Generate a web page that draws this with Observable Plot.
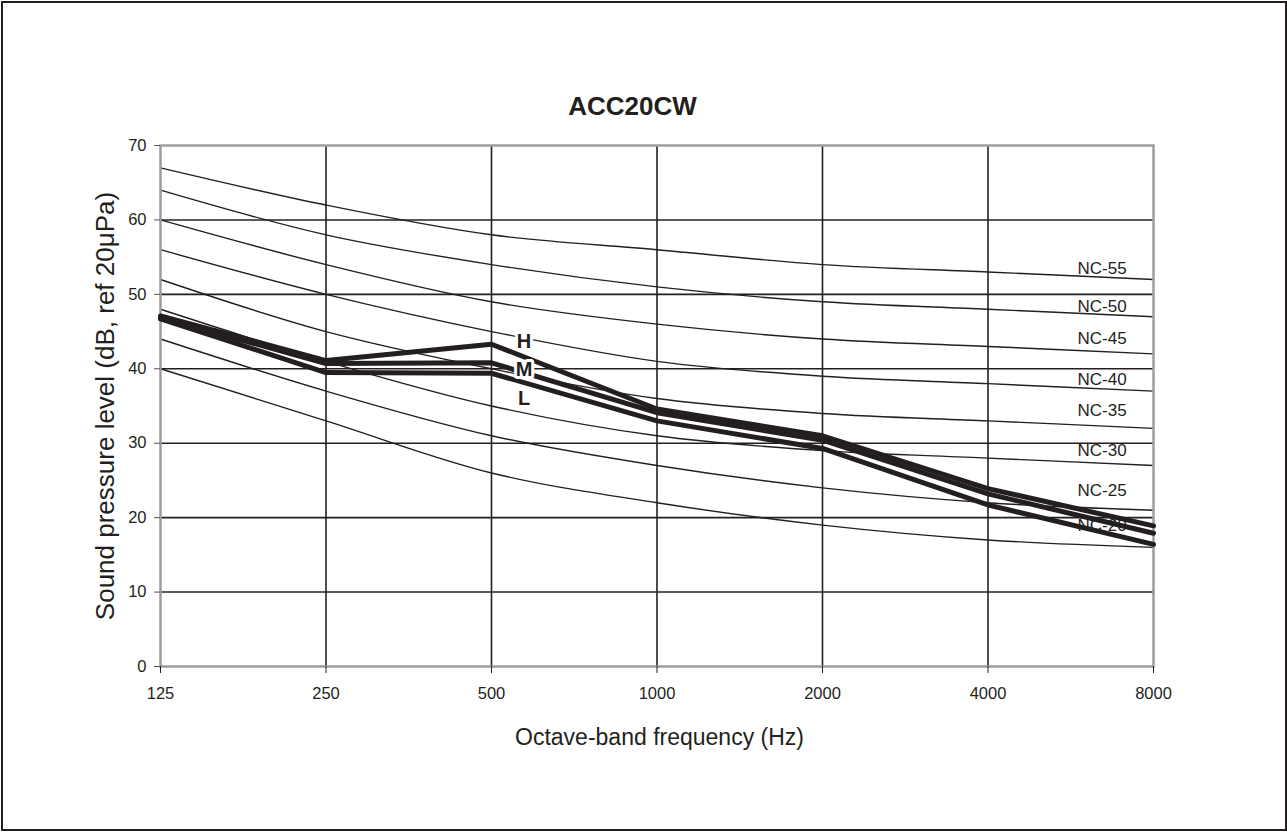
<!DOCTYPE html>
<html>
<head>
<meta charset="utf-8">
<script src="https://cdn.jsdelivr.net/npm/d3@7"></script>
<script src="https://cdn.jsdelivr.net/npm/@observablehq/plot@0.6"></script>
<style>
  html, body { margin: 0; padding: 0; background: #fff; }
  #wrap { position: relative; width: 1287px; height: 832px; overflow: hidden; }
  #border { position: absolute; left: 1px; top: 1px; width: 1286px; height: 830px; box-sizing: border-box; border: 2.5px solid #231f20; pointer-events: none; }
  #chart svg { display: block; }
</style>
</head>
<body>
<div id="wrap"><div id="chart"></div><div id="border"></div></div>
<script>
// ---- data ----
const freqs = [125, 250, 500, 1000, 2000, 4000, 8000];
const yTicks = [0, 10, 20, 30, 40, 50, 60, 70];
const gridLevels = [10, 20, 30, 40, 50, 60];

const ncNames = ["NC-20", "NC-25", "NC-30", "NC-35", "NC-40", "NC-45", "NC-50", "NC-55"];
const nc20 = [40, 33, 26, 22, 19, 17, 16];
const nc25 = [44, 37, 31, 27, 24, 22, 21];
const nc30 = [48, 41, 35, 31, 29, 28, 27];
const nc35 = [52, 45, 40, 36, 34, 33, 32];
const nc40 = [56, 50, 45, 41, 39, 38, 37];
const nc45 = [60, 54, 49, 46, 44, 43, 42];
const nc50 = [64, 58, 54, 51, 49, 48, 47];
const nc55 = [67, 62, 58, 56, 54, 53, 52];
const ncCurves = [nc20, nc25, nc30, nc35, nc40, nc45, nc50, nc55];
const ncLabelLevels = [18.9, 23.7, 29.0, 34.4, 38.5, 44.1, 48.3, 53.5];
const ncLabelFreq = 5820;

const speedNames = ["H", "M", "L"];
const speedH = [47.1, 41.1, 43.3, 34.6, 31.0, 23.9, 18.9];
const speedM = [46.9, 40.7, 40.8, 34.1, 30.4, 23.2, 17.9];
const speedL = [46.7, 39.5, 39.4, 33.0, 29.3, 21.7, 16.4];
const speedSeries = [speedH, speedM, speedL];
const speedLabelFreq = 573;
const speedLabelLevels = [43.7, 39.95, 36.06];

const title = "ACC20CW";
const xLabel = "Octave-band frequency (Hz)";
const yLabel = "Sound pressure level (dB, ref 20\u03BCPa)";

// ---- tables built from arrays ----
const ncRows = ncNames.flatMap((name, i) => freqs.map((f, j) => ({name, f, v: ncCurves[i][j]})));
const ncLabelRows = ncNames.map((name, i) => ({name, f: ncLabelFreq, v: ncLabelLevels[i]}));
const speedRows = speedNames.flatMap((name, i) => freqs.map((f, j) => ({name, f, v: speedSeries[i][j]})));
const speedLabelRows = speedNames.map((name, i) => ({name, f: speedLabelFreq, v: speedLabelLevels[i]}));

const ink = "#231f20";
const frameGray = "#9d9d9d";

const chart = Plot.plot({
  width: 1287,
  height: 832,
  marginTop: 145,
  marginLeft: 160,
  marginRight: 134,
  marginBottom: 166,
  style: {fontFamily: "'Liberation Sans', Arial, sans-serif", color: ink, background: "white"},
  x: {type: "log", base: 2, domain: [125, 8000]},
  y: {domain: [0, 70]},
  marks: [
    Plot.ruleY(gridLevels, {stroke: ink, strokeWidth: 1.6}),
    Plot.ruleX(freqs.slice(1, -1), {stroke: ink, strokeWidth: 1.6}),
    Plot.line(ncRows, {x: "f", y: "v", z: "name", curve: "catmull-rom", stroke: ink, strokeWidth: 1.4}),
    Plot.text(ncLabelRows, {x: "f", y: "v", text: "name", textAnchor: "start", fontSize: 17, fill: ink}),
    Plot.frame({stroke: frameGray, strokeWidth: 2.5}),
    Plot.line(speedRows, {x: "f", y: "v", z: "name", stroke: ink, strokeWidth: 5, strokeLinejoin: "miter"}),
    Plot.text(speedLabelRows, {x: "f", y: "v", text: "name", fontSize: 20, fontWeight: "bold", fill: ink, stroke: "white", strokeWidth: 6, paintOrder: "stroke"}),
    Plot.axisX({ticks: freqs, tickFormat: d => String(d), tickSize: 7, tickPadding: 14, fontSize: 16.5, stroke: ink, fill: ink, label: null}),
    Plot.axisY({ticks: yTicks, tickSize: 6, tickPadding: 8, fontSize: 16.5, stroke: "#555", fill: ink, label: null}),
    Plot.text([title], {frameAnchor: "top", dx: -24.5, dy: -48.5, fontSize: 26, fontWeight: "bold", fill: ink}),
    Plot.text([xLabel], {frameAnchor: "bottom", dx: 2.5, dy: 78, fontSize: 23, fill: ink}),
    Plot.text([yLabel], {frameAnchor: "left", textAnchor: "middle", dx: -55, rotate: -90, fontSize: 26, fill: ink})
  ]
});
document.getElementById("chart").appendChild(chart);
</script>
</body>
</html>
